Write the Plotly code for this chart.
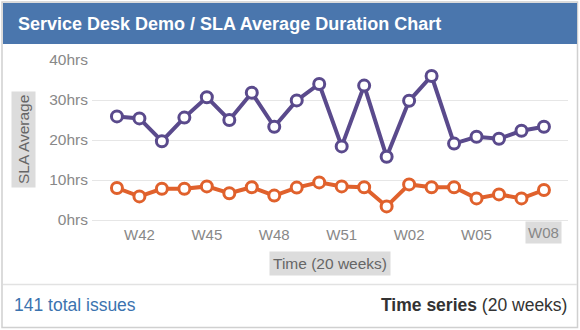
import plotly.graph_objects as go

weeks = ["W41", "W42", "W43", "W44", "W45", "W46", "W47", "W48", "W49", "W50",
         "W51", "W52", "W01", "W02", "W03", "W04", "W05", "W06", "W07", "W08"]
sla_purple = [25.9, 25.4, 19.7, 25.6, 30.7, 25.0, 31.8, 23.3, 29.9, 34.0,
              18.4, 33.6, 15.8, 29.8, 36.0, 19.1, 20.8, 20.3, 22.3, 23.3]
sla_orange = [8.0, 5.9, 7.8, 7.8, 8.4, 6.7, 8.2, 6.1, 8.1, 9.4,
              8.4, 8.2, 3.4, 8.9, 8.2, 8.2, 5.4, 6.4, 5.4, 7.5]
tick_idx = [1, 4, 7, 10, 13, 16]
title = "Service Desk Demo / SLA Average Duration Chart"
y_title = "SLA Average"
x_title = "Time (20 weeks)"
footer_left = "141 total issues"
footer_right = "<b>Time series</b> (20 weeks)"

W, H = 580, 330
L, R, T, B = 92, 12, 60, 110
PW, PH = W - L - R, H - T - B


def px(x):
    return (x - L) / PW


def py(y):
    return (H - B - y) / PH


xs = list(range(len(weeks)))
fig = go.Figure()
for vals, col in [(sla_purple, "#5a4a8c"), (sla_orange, "#e0612c")]:
    fig.add_trace(go.Scatter(
        x=xs, y=vals, mode="lines+markers",
        line=dict(color=col, width=4),
        marker=dict(size=11, color="white", line=dict(color=col, width=3)),
        showlegend=False, hoverinfo="skip"))

font = "Liberation Sans, Arial, sans-serif"
fig.update_layout(
    width=W, height=H, margin=dict(l=L, r=R, t=T, b=B),
    paper_bgcolor="white", plot_bgcolor="white",
    font=dict(family=font, size=15, color="#888"),
    xaxis=dict(range=[-1.11, 20.07], tickvals=tick_idx,
               ticktext=[weeks[i] for i in tick_idx],
               showgrid=False, zeroline=False, showline=False, ticks="",
               ticklabelstandoff=4,
               tickfont=dict(size=15, color="#888")),
    yaxis=dict(range=[0, 40], dtick=10, ticksuffix="hrs",
               showgrid=True, gridcolor="#e6e6e6", gridwidth=1,
               zeroline=True, zerolinecolor="#e6e6e6", zerolinewidth=1,
               ticks="", ticklabelstandoff=3,
               tickfont=dict(size=15.5, color="#888")),
)

shapes = [
    dict(type="rect", xref="paper", yref="paper",
         x0=px(2), x1=px(577.5), y0=py(2), y1=py(327.5),
         line=dict(color="#d0d0d0", width=1.5), fillcolor="rgba(0,0,0,0)", layer="below"),
    dict(type="rect", xref="paper", yref="paper",
         x0=px(3), x1=px(577), y0=py(3), y1=py(44),
         line=dict(width=0), fillcolor="#4a76ad", layer="below"),
    dict(type="line", xref="paper", yref="paper",
         x0=px(3), x1=px(577), y0=py(284.5), y1=py(284.5),
         line=dict(color="#e2e2e2", width=1.5)),
]
fig.update_layout(shapes=shapes)

ann = [
    dict(text="<b>" + title + "</b>", xref="paper", yref="paper",
         x=px(16), y=py(24), xanchor="left", yanchor="middle", showarrow=False,
         font=dict(family=font, size=18, color="white")),
    dict(text=y_title, xref="paper", yref="paper", textangle=-90,
         x=px(23.5), y=py(139.5), xanchor="center", yanchor="middle", showarrow=False,
         bgcolor="#dcdcdc", borderpad=3,
         font=dict(family=font, size=15.5, color="#666")),
    dict(text=x_title, xref="paper", yref="paper",
         x=px(329.5), y=py(263.5), xanchor="center", yanchor="middle", showarrow=False,
         bgcolor="#dcdcdc", borderpad=3,
         font=dict(family=font, size=15.5, color="#666")),
    dict(text=weeks[19], xref="x", yref="paper",
         x=19, y=py(232.5), xanchor="center", yanchor="middle", showarrow=False,
         bgcolor="#dcdcdc", borderpad=2,
         font=dict(family=font, size=15, color="#888")),
    dict(text=footer_left, xref="paper", yref="paper",
         x=px(12), y=py(305), xanchor="left", yanchor="middle", showarrow=False,
         font=dict(family=font, size=17.5, color="#3b73af")),
    dict(text=footer_right, xref="paper", yref="paper",
         x=px(569), y=py(305), xanchor="right", yanchor="middle", showarrow=False,
         font=dict(family=font, size=17.5, color="#333")),
]
fig.update_layout(annotations=ann)

fig.write_html("out.html", config={"displayModeBar": False})
